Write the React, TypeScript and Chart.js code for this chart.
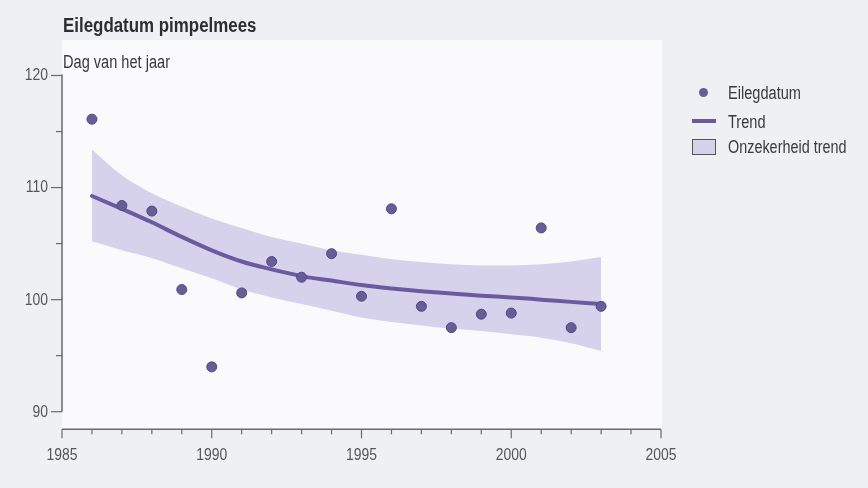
import React, { useEffect, useRef } from "react";
import { Chart, registerables } from "chart.js";

Chart.register(...registerables);

// ---- data ----
const title = "Eilegdatum pimpelmees";
const yAxisTitle = "Dag van het jaar";
const legendLabels = ["Eilegdatum", "Trend", "Onzekerheid trend"];

const years = [1986, 1987, 1988, 1989, 1990, 1991, 1992, 1993, 1994, 1995, 1996, 1997, 1998, 1999, 2000, 2001, 2002, 2003];
const eilegdatum = [116.1, 108.4, 107.9, 100.9, 94.0, 100.6, 103.4, 102.0, 104.1, 100.3, 108.1, 99.4, 97.5, 98.7, 98.8, 106.4, 97.5, 99.4];
const trend = [109.25, 108.1, 106.9, 105.6, 104.4, 103.4, 102.7, 102.1, 101.7, 101.3, 101.0, 100.75, 100.55, 100.35, 100.2, 100.0, 99.8, 99.6];
const trendUpper = [113.4, 111.1, 109.5, 108.3, 107.25, 106.4, 105.6, 105.0, 104.4, 104.0, 103.6, 103.35, 103.15, 103.05, 103.05, 103.15, 103.4, 103.8];
const trendLower = [105.2, 104.4, 103.7, 102.8, 101.9, 100.9, 100.2, 99.6, 99.0, 98.4, 98.0, 97.7, 97.4, 97.2, 96.9, 96.6, 96.1, 95.4];

const xTickLabels = [1985, 1990, 1995, 2000, 2005];
const yTickLabels = [90, 100, 110, 120];
const xMin = 1985;
const xMax = 2005;
const yMin = 90;
const yMax = 120;

// ---- styles ----
const POINT_COLOR = "#675e98";
const POINT_BORDER = "#514a84";
const LINE_COLOR = "#6a5ba0";
const BAND_COLOR = "#d7d2ec";
const AXIS_COLOR = "#6a6a6a";
const TICK_TEXT = "#565656";
const FONT = '"Liberation Sans", Arial, sans-serif';

function condensedText(ctx: CanvasRenderingContext2D, text: string, x: number, y: number, align: CanvasTextAlign, sx: number) {
  ctx.save();
  ctx.translate(x, y);
  ctx.scale(sx, 1);
  ctx.textAlign = align;
  ctx.fillText(text, 0, 0);
  ctx.restore();
}

const axesPlugin = {
  id: "customAxes",
  beforeDraw(chart: any) {
    const { ctx, scales } = chart;
    const xs = scales.x;
    const ys = scales.y;
    ctx.save();
    ctx.fillStyle = "#fafafc";
    const left = xs.getPixelForValue(xMin);
    const right = xs.getPixelForValue(xMax) + 1;
    const bottom = ys.getPixelForValue(yMin) + 18;
    ctx.fillRect(left, 40, right - left, bottom - 40);
    ctx.restore();
  },
  beforeDatasetsDraw(chart: any) {
    const { ctx, scales } = chart;
    const xs = scales.x;
    const ys = scales.y;
    const ax = xs.getPixelForValue(xMin);
    const yTop = ys.getPixelForValue(yMax);
    const yBot = ys.getPixelForValue(yMin);
    ctx.save();
    ctx.strokeStyle = AXIS_COLOR;
    ctx.lineWidth = 1.5;
    // y axis line
    ctx.beginPath();
    ctx.moveTo(ax, yTop - 1);
    ctx.lineTo(ax, yBot);
    ctx.stroke();
    // y ticks
    ctx.lineWidth = 1.2;
    for (let v = yMin; v <= yMax; v += 5) {
      const py = ys.getPixelForValue(v);
      const major = v % 10 === 0;
      ctx.beginPath();
      ctx.moveTo(ax - (major ? 11 : 6), py);
      ctx.lineTo(ax, py);
      ctx.stroke();
    }
    // x axis line
    const axY = yBot + 17.6;
    ctx.lineWidth = 1.5;
    ctx.beginPath();
    ctx.moveTo(xs.getPixelForValue(xMin), axY);
    ctx.lineTo(xs.getPixelForValue(xMax), axY);
    ctx.stroke();
    ctx.lineWidth = 1.2;
    for (let v = xMin; v <= xMax; v += 1) {
      const px = xs.getPixelForValue(v);
      const major = v % 5 === 0;
      ctx.beginPath();
      ctx.moveTo(px, axY);
      ctx.lineTo(px, axY + (major ? 9 : 5));
      ctx.stroke();
    }
    // labels
    ctx.fillStyle = TICK_TEXT;
    ctx.font = "16px " + FONT;
    ctx.textBaseline = "middle";
    yTickLabels.forEach((v) => {
      condensedText(ctx, String(v), ax - 14, ys.getPixelForValue(v) + 0.5, "right", 0.87);
    });
    ctx.textBaseline = "alphabetic";
    xTickLabels.forEach((v) => {
      condensedText(ctx, String(v), xs.getPixelForValue(v), axY + 31, "center", 0.87);
    });
    ctx.restore();
  },
};

export default function App() {
  const canvasRef = useRef<HTMLCanvasElement | null>(null);

  useEffect(() => {
    const canvas = canvasRef.current;
    if (!canvas) return;
    const pts = (arr: number[]) => years.map((yr, i) => ({ x: yr, y: arr[i] }));
    const chart = new Chart(canvas, {
      type: "line",
      data: {
        datasets: [
          {
            label: legendLabels[0],
            data: pts(eilegdatum),
            showLine: false,
            pointRadius: 5,
            pointBackgroundColor: POINT_COLOR,
            pointBorderColor: POINT_BORDER,
            pointBorderWidth: 1,
          },
          {
            label: legendLabels[1],
            data: pts(trend),
            borderColor: LINE_COLOR,
            borderWidth: 4,
            borderCapStyle: "round",
            pointRadius: 0,
            cubicInterpolationMode: "monotone",
            fill: false,
          },
          {
            label: legendLabels[2],
            data: pts(trendUpper),
            borderWidth: 0,
            borderColor: "rgba(0,0,0,0)",
            backgroundColor: BAND_COLOR,
            pointRadius: 0,
            cubicInterpolationMode: "monotone",
            fill: "+1",
          },
          {
            label: "lower",
            data: pts(trendLower),
            borderWidth: 0,
            borderColor: "rgba(0,0,0,0)",
            pointRadius: 0,
            cubicInterpolationMode: "monotone",
            fill: false,
          },
        ],
      },
      options: {
        responsive: false,
        devicePixelRatio: 1,
        animation: false,
        layout: { padding: { left: 62, right: 207, top: 75.5, bottom: 76.3 } },
        scales: {
          x: { type: "linear", min: xMin, max: xMax, display: false },
          y: { type: "linear", min: yMin, max: yMax, display: false },
        },
        plugins: { legend: { display: false }, tooltip: { enabled: false } },
      },
      plugins: [axesPlugin],
    } as any);
    return () => chart.destroy();
  }, []);

  const textBase: React.CSSProperties = {
    position: "absolute",
    whiteSpace: "nowrap",
    lineHeight: 1,
    transformOrigin: "left top",
    fontFamily: FONT,
  };

  return (
    <div
      style={{
        position: "fixed",
        left: 0,
        top: 0,
        width: 868,
        height: 488,
        background: "#eef0f4",
        overflow: "hidden",
        fontFamily: FONT,
      }}
    >
      <canvas ref={canvasRef} width={868} height={488} style={{ position: "absolute", left: 0, top: 0, width: 868, height: 488 }} />
      <div style={{ ...textBase, left: 63, top: 14.8, fontSize: 20, fontWeight: "bold", color: "#2e2e2e", transform: "scaleX(0.845)" }}>{title}</div>
      <div style={{ ...textBase, left: 63, top: 53.1, fontSize: 18, color: "#383838", transform: "scaleX(0.81)" }}>{yAxisTitle}</div>
      {/* legend */}
      <div style={{ position: "absolute", left: 699, top: 88, width: 9, height: 9, borderRadius: "50%", background: POINT_COLOR }} />
      <div style={{ ...textBase, left: 728, top: 99 - 15.2, fontSize: 18, color: "#3a3a3a", transform: "scaleX(0.81)" }}>{legendLabels[0]}</div>
      <div style={{ position: "absolute", left: 692, top: 119, width: 24, height: 4, background: LINE_COLOR }} />
      <div style={{ ...textBase, left: 728, top: 128 - 15.2, fontSize: 18, color: "#3a3a3a", transform: "scaleX(0.81)" }}>{legendLabels[1]}</div>
      <div style={{ position: "absolute", left: 692, top: 139, width: 22, height: 14, background: BAND_COLOR, border: "1px solid #555" }} />
      <div style={{ ...textBase, left: 728, top: 153 - 15.2, fontSize: 18, color: "#3a3a3a", transform: "scaleX(0.8)" }}>{legendLabels[2]}</div>
    </div>
  );
}
